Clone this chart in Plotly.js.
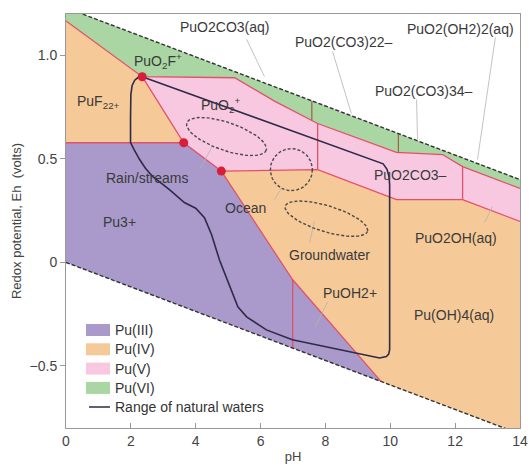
<!DOCTYPE html>
<html>
<head>
<meta charset="utf-8">
<script src="https://cdn.plot.ly/plotly-3.0.1.min.js"></script>
<style>html,body{margin:0;padding:0;background:#fff;}#chart{width:531px;height:466px;}</style>
</head>
<body>
<div id="chart"></div>
<script>
// ---------- data (pH, Eh in volts) ----------
const waterUpperPH = [0, 14];
const waterUpperEh = [1.23, 0.40];
const waterLowerPH = [0, 14];
const waterLowerEh = [0, -0.829];

// Pu(VI) field
const puVI_pH = [0, 14, 14, 12.23, 11.61, 10.19, 7.76, 6.43, 5.20, 2.35, 0];
const puVI_Eh = [1.23, 0.40, 0.357, 0.463, 0.521, 0.531, 0.671, 0.779, 0.892, 0.897, 1.166];
// Pu(IV) PuF2 2+ field
const puIVa_pH = [0, 2.35, 3.63, 0];
const puIVa_Eh = [1.166, 0.897, 0.578, 0.578];
// Pu(V) field
const puV_pH = [2.35, 5.20, 6.43, 7.76, 10.19, 11.61, 12.23, 14, 14, 12.23, 10.19, 7.76, 4.79, 3.63];
const puV_Eh = [0.897, 0.892, 0.779, 0.671, 0.531, 0.521, 0.463, 0.357, 0.198, 0.303, 0.303, 0.448, 0.441, 0.578];
// Pu(III) field
const puIII_pH = [0, 3.63, 4.79, 6.99, 9.72, 0];
const puIII_Eh = [0.578, 0.578, 0.441, -0.084, -0.576, 0];
// Pu(IV) hydrolysed field
const puIVb_pH = [4.79, 7.76, 10.19, 12.23, 14, 14, 9.72, 6.99];
const puIVb_Eh = [0.441, 0.448, 0.303, 0.303, 0.198, -0.829, -0.576, -0.084];

// red boundaries between species
const bound_pH = [0, 2.35, 5.20, 6.43, 7.76, 10.19, 11.61, 12.23, 14, null,
                  2.35, 3.63, 4.79, 7.76, 10.19, 12.23, 14, null,
                  0, 3.63, null,
                  4.79, 6.99, 9.72, null,
                  6.99, 6.99, null,
                  7.76, 7.76, null,
                  12.23, 12.23];
const bound_Eh = [1.166, 0.897, 0.892, 0.779, 0.671, 0.531, 0.521, 0.463, 0.357, null,
                  0.897, 0.578, 0.441, 0.448, 0.303, 0.303, 0.198, null,
                  0.578, 0.578, null,
                  0.441, -0.084, -0.576, null,
                  -0.084, -0.414, null,
                  0.671, 0.448, null,
                  0.463, 0.303];
// short brown separators inside the Pu(VI) band
const sep_pH = [7.58, 7.58, null, 10.25, 10.25];
const sep_Eh = [0.781, 0.686, null, 0.620, 0.528];

// triple points
const dot_pH = [2.35, 3.63, 4.79];
const dot_Eh = [0.897, 0.578, 0.441];

// range of natural waters outline
const nat_pH = [2.35, 9.61, 9.78, 9.90, 9.96, 9.98, 9.98, 9.95, 9.88, 9.67, 8.22, 6.98, 6.18, 5.57, 5.30, 5.13,
                4.90, 4.73, 4.49, 4.27, 4.00, 3.65, 3.19, 2.67, 2.45, 2.27, 2.10, 1.99, 1.99, 2.00, 2.04, 2.12, 2.22, 2.35];
const nat_Eh = [0.897, 0.487, 0.476, 0.450, 0.415, 0.376, -0.422, -0.443, -0.455, -0.462, -0.413, -0.374, -0.326, -0.263, -0.215, -0.146,
                -0.06, 0.013, 0.134, 0.216, 0.262, 0.289, 0.352, 0.415, 0.455, 0.497, 0.545, 0.579, 0.70, 0.811, 0.855, 0.880, 0.893, 0.897];

// dashed water-type ellipses: centre pH, centre Eh
const ellNames = ['Rain/streams', 'Ocean', 'Groundwater'];
const ellPH = [4.95, 6.95, 8.03];
const ellEh = [0.608, 0.448, 0.211];

// species labels
const labText = ['PuO2CO3(aq)', 'PuO2(CO3)22–', 'PuO2(OH2)2(aq)', 'PuO2(CO3)34–',
  'PuO<sub>2</sub>F<sup>+</sup>', 'PuF<sub>22+</sub>', 'PuO<sub>2</sub><sup>+</sup>', 'Rain/streams', 'Pu3+',
  'Ocean', 'Groundwater', 'PuOH2+', 'PuO2CO3–', 'PuO2OH(aq)', 'Pu(OH)4(aq)'];
const labPH = [4.89, 8.56, 12.16, 11.02, 2.85, 1.0, 4.76, 2.51, 1.65, 5.53, 8.13, 8.77, 10.62, 12.04, 11.98];
const labEh = [1.135, 1.063, 1.126, 0.826, 0.971, 0.777, 0.758, 0.41, 0.197, 0.265, 0.037, -0.147, 0.424, 0.12, -0.253];

// leader lines
const lead_pH = [5.57, 6.12, null, 8.22, 8.80, null, 13.24, 12.69, null, 10.81, 10.84, null,
                 12.90, 13.15, null, 8.07, 7.69, null, 7.51, 7.66, null, 6.43, 6.65, null, 4.12, 4.49];
const lead_Eh = [1.077, 0.898, null, 1.019, 0.719, null, 1.087, 0.497, null, 0.787, 0.594, null,
                 0.19, 0.27, null, -0.19, -0.311, null, 0.095, 0.197, null, 0.303, 0.361, null, 0.448, 0.555];

// legend
const legNames = ['Pu(III)', 'Pu(IV)', 'Pu(V)', 'Pu(VI)'];
const legLine = 'Range of natural waters';

const xTicks = [0, 2, 4, 6, 8, 10, 12, 14];
const yTickVals = [-0.5, 0, 0.5, 1.0];
const yTickText = ['−0.5', '0', '0.5', '1.0'];

// ---------- styles ----------
const C_III = '#a99acb', C_IV = '#f6ca98', C_V = '#f8c8e1', C_VI = '#a9d6a2';
const legColors = [C_III, C_IV, C_V, C_VI];
const RED = '#e2506a';
const FONT = 'Liberation Sans, Arial, sans-serif';

const W = 531, H = 466, M = {l: 66, r: 11, t: 14, b: 38};
const kx = (W - M.l - M.r) / 14, ky = (H - M.t - M.b) / 2.0;
const ellA = [42, 21, 43], ellB = [14, 21, 13], ellRot = [19, 0, 17];

function poly(x, y, color) {
  return {x: x, y: y, type: 'scatter', mode: 'lines', fill: 'toself', fillcolor: color,
          line: {width: 0, color: color}, hoverinfo: 'skip', showlegend: false};
}
const traces = [
  poly(puVI_pH, puVI_Eh, C_VI),
  poly(puIVa_pH, puIVa_Eh, C_IV),
  poly(puV_pH, puV_Eh, C_V),
  poly(puIII_pH, puIII_Eh, C_III),
  poly(puIVb_pH, puIVb_Eh, C_IV),
  {x: bound_pH, y: bound_Eh, type: 'scatter', mode: 'lines', line: {color: RED, width: 1.3},
   connectgaps: false, showlegend: false, hoverinfo: 'skip'},
  {x: sep_pH, y: sep_Eh, type: 'scatter', mode: 'lines', line: {color: '#9a6a4e', width: 1.3},
   showlegend: false, hoverinfo: 'skip'},
  {x: lead_pH, y: lead_Eh, type: 'scatter', mode: 'lines', line: {color: '#b4b4b4', width: 0.8},
   showlegend: false, hoverinfo: 'skip'},
  {x: waterUpperPH, y: waterUpperEh, type: 'scatter', mode: 'lines',
   line: {color: '#333', width: 1.4, dash: '4px,2px'}, showlegend: false, hoverinfo: 'skip'},
  {x: waterLowerPH, y: waterLowerEh, type: 'scatter', mode: 'lines',
   line: {color: '#333', width: 1.4, dash: '4px,2px'}, showlegend: false, hoverinfo: 'skip'}
];
// ellipses
for (let i = 0; i < ellPH.length; i++) {
  const xs = [], ys = [], th = ellRot[i] * Math.PI / 180;
  for (let k = 0; k <= 72; k++) {
    const t = 2 * Math.PI * k / 72;
    const dx = ellA[i] * Math.cos(t) * Math.cos(th) - ellB[i] * Math.sin(t) * Math.sin(th);
    const dy = ellA[i] * Math.cos(t) * Math.sin(th) + ellB[i] * Math.sin(t) * Math.cos(th);
    xs.push(ellPH[i] + dx / kx);
    ys.push(ellEh[i] - dy / ky);
  }
  traces.push({x: xs, y: ys, type: 'scatter', mode: 'lines', name: ellNames[i],
    line: {color: '#4a4a4a', width: 1.4, dash: '3px,2px'}, showlegend: false, hoverinfo: 'skip'});
}
traces.push({x: nat_pH, y: nat_Eh, type: 'scatter', mode: 'lines', name: legLine,
  line: {color: '#2e2a48', width: 1.6}, showlegend: false, hoverinfo: 'skip'});
traces.push({x: dot_pH, y: dot_Eh, type: 'scatter', mode: 'markers',
  marker: {color: '#d81d3a', size: 9}, showlegend: false, hoverinfo: 'skip'});

const annotations = labText.map((t, i) => ({
  x: labPH[i], y: labEh[i], xref: 'x', yref: 'y', text: t, showarrow: false,
  xanchor: 'center', yanchor: 'middle', font: {family: FONT, size: 14, color: '#3a3a3a'}
}));
const shapes = [];
const pw = W - M.l - M.r, ph = H - M.t - M.b;
const px2 = p => (p - M.l) / pw, py2 = p => (H - M.b - p) / ph;
legNames.forEach((n, i) => {
  const cy = 330 + i * 19.3;
  shapes.push({type: 'rect', xref: 'paper', yref: 'paper', x0: px2(86), x1: px2(110),
    y0: py2(cy + 6), y1: py2(cy - 6), fillcolor: legColors[i], line: {width: 0}});
  annotations.push({x: px2(113), y: py2(cy), xref: 'paper', yref: 'paper', text: n, showarrow: false,
    xanchor: 'left', yanchor: 'middle', font: {family: FONT, size: 14, color: '#333'}});
});
shapes.push({type: 'line', xref: 'paper', yref: 'paper', x0: px2(89), x1: px2(110),
  y0: py2(407), y1: py2(407), line: {color: '#2e2a48', width: 1.5}});
annotations.push({x: px2(113), y: py2(407), xref: 'paper', yref: 'paper', text: legLine, showarrow: false,
  xanchor: 'left', yanchor: 'middle', font: {family: FONT, size: 14, color: '#333'}});

const layout = {
  width: W, height: H, margin: M, paper_bgcolor: '#fff', plot_bgcolor: '#fff',
  showlegend: false, font: {family: FONT, size: 13, color: '#444'},
  xaxis: {range: [0, 14], tickvals: xTicks, ticks: 'inside', ticklen: 5, tickcolor: '#999',
    showline: true, linecolor: '#999', linewidth: 1, mirror: true, showgrid: false, zeroline: false,
    title: {text: 'pH', font: {size: 13, color: '#444'}, standoff: 4},
    tickfont: {size: 14, color: '#444'}},
  yaxis: {range: [-0.8, 1.2], tickvals: yTickVals, ticktext: yTickText, ticks: 'outside', ticklen: 5,
    tickcolor: '#999', showline: true, linecolor: '#999', linewidth: 1, mirror: true,
    showgrid: false, zeroline: false,
    title: {text: 'Redox potential, Eh  (volts)', font: {size: 13, color: '#444'}, standoff: 5},
    tickfont: {size: 14, color: '#444'}},
  annotations: annotations, shapes: shapes
};
Plotly.newPlot('chart', traces, layout, {displayModeBar: false, staticPlot: true});
</script>
</body>
</html>
